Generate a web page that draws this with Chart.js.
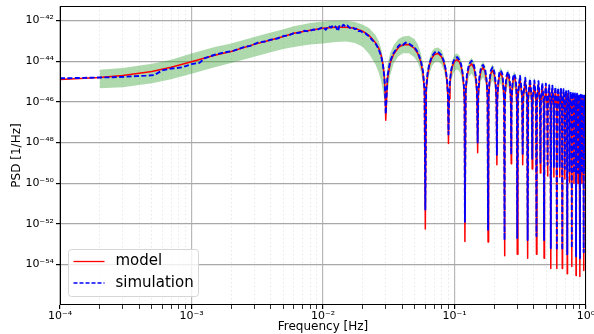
<!DOCTYPE html>
<html>
<head>
<meta charset="utf-8">
<script src="https://cdn.jsdelivr.net/npm/chart.js@4.4.1/dist/chart.umd.min.js"></script>
<style>
  html, body { margin: 0; padding: 0; background: #fff; }
  #wrap { width: 594px; height: 334px; position: relative; }
</style>
</head>
<body>
<div id="wrap"><canvas id="psd"></canvas></div>
<script>
// tick decades (powers of ten that get a label)
const xDecades = [-4, -3, -2, -1, 0];
const yDecades = [-54, -52, -50, -48, -46, -44, -42];

// frequencies of the model curve [Hz]
const modelFreq = [
  1e-4, 2e-4, 3e-4, 5e-4, 7e-4, 1e-3, 1.5e-3, 2e-3, 3e-3, 4e-3, 5e-3, 6e-3, 8e-3, 0.01, 0.0125, 0.015, 0.0175, 0.02, 0.0225, 0.025, 0.0265, 0.0277, 0.0286, 0.0293, 0.0297, 0.03,
  0.0309, 0.0324, 0.0345, 0.0375, 0.0405, 0.045, 0.0495, 0.0525, 0.0555, 0.0576, 0.0591, 0.06,
  0.0609, 0.0624, 0.0645, 0.0675, 0.0705, 0.075, 0.0795, 0.0825, 0.0855, 0.0876, 0.0891, 0.09,
  0.0909, 0.0924, 0.0945, 0.0975, 0.1005, 0.105, 0.1095, 0.1125, 0.1155, 0.1176, 0.1191, 0.12,
  0.1218, 0.1245, 0.129, 0.135, 0.141, 0.1455, 0.1482, 0.15,
  0.1518, 0.1545, 0.159, 0.165, 0.171, 0.1755, 0.1782, 0.18,
  0.1818, 0.1845, 0.189, 0.195, 0.201, 0.2055, 0.2082, 0.21,
  0.2118, 0.2145, 0.219, 0.225, 0.231, 0.2355, 0.2382, 0.24,
  0.2418, 0.2445, 0.249, 0.255, 0.261, 0.2655, 0.2682, 0.27,
  0.2718, 0.2745, 0.279, 0.285, 0.291, 0.2955, 0.2982, 0.30,
  0.3036, 0.315, 0.3264, 0.33,
  0.3336, 0.345, 0.3564, 0.36,
  0.3636, 0.375, 0.3864, 0.39,
  0.3936, 0.405, 0.4164, 0.42,
  0.4236, 0.435, 0.4464, 0.45,
  0.4536, 0.465, 0.4764, 0.48,
  0.4836, 0.495, 0.5064, 0.51,
  0.5136, 0.525, 0.5364, 0.54,
  0.5436, 0.555, 0.5664, 0.57,
  0.5736, 0.585, 0.5964, 0.60,
  0.6036, 0.615, 0.6264, 0.63,
  0.6336, 0.645, 0.6564, 0.66,
  0.6636, 0.675, 0.6864, 0.69,
  0.6936, 0.705, 0.7164, 0.72,
  0.7236, 0.735, 0.7464, 0.75,
  0.7536, 0.765, 0.7764, 0.78,
  0.7836, 0.795, 0.8064, 0.81,
  0.8136, 0.825, 0.8364, 0.84,
  0.8436, 0.855, 0.8664, 0.87,
  0.8736, 0.885, 0.8964, 0.90,
  0.9036, 0.915, 0.9264, 0.93,
  0.9336, 0.945, 0.9564, 0.96,
  0.9636, 0.975, 0.9864, 0.99,
  0.9936, 1.0
];

// model PSD, log10 of 1/Hz
const modelLogPsd = [
  -44.90, -44.80, -44.70, -44.50, -44.30, -44.02, -43.70, -43.52, -43.17, -42.95, -42.78, -42.62, -42.47, -42.38, -42.33, -42.33, -42.38, -42.52, -42.74, -43.08, -43.35, -43.72, -44.15, -44.78, -45.55, -46.90,
  -44.90, -44.10, -43.64, -43.32, -43.19, -43.18, -43.36, -43.61, -44.05, -44.60, -45.46, -52.26,
  -45.49, -44.67, -44.18, -43.83, -43.67, -43.62, -43.77, -44.01, -44.43, -44.97, -45.82, -48.05,
  -45.84, -45.01, -44.51, -44.15, -43.98, -43.92, -44.05, -44.28, -44.69, -45.22, -46.07, -52.87,
  -45.49, -44.75, -44.27, -44.13, -44.35, -44.89, -45.66, -48.50,
  -45.69, -44.94, -44.46, -44.31, -44.52, -45.05, -45.83, -52.90,
  -45.84, -45.09, -44.60, -44.45, -44.66, -45.19, -45.96, -49.10,
  -45.98, -45.23, -44.74, -44.58, -44.78, -45.31, -46.08, -53.57,
  -46.09, -45.34, -44.85, -44.69, -44.89, -45.41, -46.18, -49.05,
  -46.19, -45.43, -44.94, -44.78, -44.98, -45.50, -46.27, -53.50,
  -45.71, -44.87, -45.77, -49.10,
  -45.79, -44.95, -45.85, -53.70,
  -45.86, -45.02, -45.92, -49.30,
  -45.93, -45.09, -45.99, -53.50,
  -45.99, -45.15, -46.05, -49.50,
  -46.05, -45.21, -46.11, -53.70,
  -46.10, -45.26, -46.16, -49.65,
  -46.15, -45.31, -46.21, -54.20,
  -46.20, -45.36, -46.26, -49.70,
  -46.25, -45.41, -46.31, -54.20,
  -46.29, -45.45, -46.35, -49.70,
  -46.33, -45.49, -46.39, -54.20,
  -46.37, -45.53, -46.43, -49.80,
  -46.41, -45.57, -46.47, -54.46,
  -46.45, -45.61, -46.51, -49.96,
  -46.48, -45.64, -46.54, -54.10,
  -46.51, -45.67, -46.57, -50.00,
  -46.55, -45.71, -46.61, -54.55,
  -46.58, -45.74, -46.64, -50.00,
  -46.61, -45.77, -46.67, -54.60,
  -46.64, -45.80, -46.70, -50.00,
  -46.66, -45.82, -46.72, -54.30,
  -46.69, -45.85, -46.75, -49.90,
  -46.72, -46.00
];

// simulated PSD: own frequencies below 0.09 Hz, then same grid as the model
const simFreq = [
  1e-4, 1.5e-4, 2e-4, 2.5e-4, 3e-4, 3.8e-4, 4.5e-4, 5.2e-4, 6e-4, 7e-4, 8.5e-4, 1e-3, 1.15e-3, 1.26e-3, 1.5e-3, 1.8e-3, 2.1e-3, 2.5e-3, 2.8e-3, 3.2e-3, 3.6e-3,
  4e-3, 4.5e-3, 5e-3, 5.5e-3, 6e-3, 6.6e-3, 7.2e-3, 7.8e-3, 8.4e-3, 9e-3, 9.5e-3, 0.01, 0.0105, 0.011, 0.0115, 0.012, 0.0125, 0.013, 0.0133, 0.0138,
  0.0143, 0.0148, 0.0153, 0.016, 0.0167, 0.0174, 0.018, 0.0186, 0.0192, 0.02, 0.021, 0.0218, 0.0226, 0.0236, 0.0246, 0.0255, 0.0265, 0.0277, 0.0286, 0.0293, 0.0297, 0.03,
  0.0309, 0.0324, 0.0345, 0.0375, 0.039, 0.0405, 0.0425, 0.045, 0.047, 0.0495, 0.0525, 0.0555, 0.0576, 0.0591, 0.06,
  0.0609, 0.0624, 0.0645, 0.0675, 0.0705, 0.0725, 0.075, 0.0775, 0.0795, 0.0825, 0.0855, 0.0876, 0.0891, 0.09
].concat(modelFreq.slice(modelFreq.indexOf(0.0909)));

const simLogPsd = [
  -44.84, -44.82, -44.80, -44.79, -44.77, -44.73, -44.71, -44.68, -44.45, -44.36, -44.30, -44.14, -44.08, -43.85, -43.68, -43.56, -43.48, -43.30, -43.24, -43.08, -43.03,
  -42.94, -42.88, -42.76, -42.73, -42.62, -42.60, -42.50, -42.53, -42.44, -42.46, -42.38, -42.33, -42.45, -42.26, -42.34, -42.22, -42.30, -42.52, -42.27, -42.33,
  -42.20, -42.30, -42.24, -42.36, -42.30, -42.42, -42.40, -42.52, -42.50, -42.58, -42.62, -42.72, -42.78, -42.95, -43.06, -43.20, -43.40, -43.75, -44.20, -44.80, -45.55, -46.60,
  -44.75, -44.00, -43.58, -43.25, -43.15, -43.20, -43.08, -43.12, -43.22, -43.30, -43.55, -43.98, -44.50, -45.30, -51.30,
  -45.35, -44.58, -44.10, -43.75, -43.58, -43.52, -43.55, -43.62, -43.70, -43.95, -44.35, -44.85, -45.60, -47.60,
  -45.65, -44.92, -44.40, -44.05, -43.85, -43.80, -43.96, -44.18, -44.60, -45.10, -45.85, -51.90,
  -45.35, -44.62, -44.15, -43.98, -44.22, -44.75, -45.45, -48.00,
  -45.55, -44.80, -44.30, -44.18, -44.40, -44.92, -45.65, -52.30,
  -45.70, -44.95, -44.45, -44.30, -44.52, -45.05, -45.78, -48.60,
  -45.82, -45.10, -44.58, -44.45, -44.62, -45.18, -45.90, -52.80,
  -45.92, -45.20, -44.70, -44.52, -44.75, -45.28, -46.00, -48.60,
  -46.02, -45.30, -44.78, -44.62, -44.82, -45.36, -46.08, -52.70,
  -45.60, -44.72, -45.66, -48.60,
  -45.68, -44.82, -45.74, -52.80,
  -45.75, -44.86, -45.80, -48.80,
  -45.82, -44.95, -45.88, -52.60,
  -45.88, -44.98, -45.94, -49.00,
  -45.94, -45.08, -46.00, -52.80,
  -45.99, -45.10, -46.05, -49.10,
  -46.04, -45.18, -46.10, -53.20,
  -46.09, -45.20, -46.15, -49.20,
  -46.14, -45.27, -46.20, -53.30,
  -46.18, -45.30, -46.24, -49.20,
  -46.22, -45.36, -46.28, -53.30,
  -46.26, -45.38, -46.32, -49.30,
  -46.30, -45.44, -46.36, -53.50,
  -46.34, -45.46, -46.40, -49.40,
  -46.37, -45.50, -46.43, -53.20,
  -46.40, -45.52, -46.46, -49.50,
  -46.44, -45.58, -46.50, -53.60,
  -46.47, -45.60, -46.53, -49.50,
  -46.50, -45.63, -46.56, -53.70,
  -46.53, -45.65, -46.59, -49.50,
  -46.55, -45.68, -46.61, -53.40,
  -46.58, -45.70, -46.64, -49.40,
  -46.60, -45.95
];

// spread band, starts at 2e-4 Hz on the model grid
const bandFreq = modelFreq.slice(1);
const bandUpper = [
  -44.42, -44.33, -44.12, -43.92, -43.62, -43.30, -43.12, -42.80, -42.58, -42.42, -42.28, -42.12, -42.04, -42.00, -42.01, -42.07, -42.19, -42.38, -42.70, -43.00, -43.38, -43.85, -44.40, -44.90, -45.20,
  -44.20, -43.60, -43.20, -42.90, -42.78, -42.75, -42.90, -43.15, -43.60, -44.10, -44.90, -45.80,
  -45.00, -44.30, -43.85, -43.50, -43.36, -43.32, -43.45, -43.70, -44.10, -44.60, -45.40, -45.90,
  -45.45, -44.68, -44.20, -43.85, -43.67, -43.62, -43.74, -43.97, -44.36, -44.87, -45.65, -46.30,
  -45.15, -44.43, -43.97, -43.83, -44.05, -44.57, -45.30, -46.60,
  -45.35, -44.62, -44.16, -44.01, -44.22, -44.73, -45.48, -46.80,
  -45.50, -44.77, -44.30, -44.15, -44.36, -44.87, -45.62, -46.90,
  -45.64, -44.90, -44.44, -44.28, -44.48, -45.00, -45.74, -47.00,
  -45.75, -45.02, -44.55, -44.39, -44.59, -45.10, -45.84, -47.10,
  -45.85, -45.11, -44.64, -44.48, -44.68, -45.19, -45.93, -47.20,
  -45.36, -44.52, -45.42, -47.30,
  -45.44, -44.60, -45.50, -47.30,
  -45.51, -44.67, -45.57, -47.30,
  -45.58, -44.74, -45.64, -47.30,
  -45.64, -44.80, -45.70, -47.30,
  -45.70, -44.86, -45.76, -47.30,
  -45.75, -44.91, -45.81, -47.30,
  -45.80, -44.96, -45.86, -47.30,
  -45.85, -45.01, -45.91, -47.30,
  -45.90, -45.06, -45.96, -47.30,
  -45.94, -45.10, -46.00, -47.30,
  -45.98, -45.14, -46.04, -47.30,
  -46.02, -45.18, -46.08, -47.30,
  -46.06, -45.22, -46.12, -47.30,
  -46.10, -45.26, -46.16, -47.30,
  -46.13, -45.29, -46.19, -47.30,
  -46.16, -45.32, -46.22, -47.30,
  -46.20, -45.36, -46.26, -47.30,
  -46.23, -45.39, -46.29, -47.30,
  -46.26, -45.42, -46.32, -47.30,
  -46.29, -45.45, -46.35, -47.30,
  -46.31, -45.47, -46.37, -47.30,
  -46.34, -45.50, -46.40, -47.30,
  -46.37, -45.60
];
const bandLower = [
  -45.33, -45.28, -45.08, -44.88, -44.62, -44.30, -44.08, -43.78, -43.56, -43.40, -43.30, -43.18, -43.12, -43.05, -43.03, -43.10, -43.28, -43.65, -44.15, -44.55, -45.00, -45.50, -45.90, -46.20, -46.40,
  -45.60, -44.70, -44.10, -43.75, -43.60, -43.60, -43.80, -44.05, -44.50, -45.10, -45.90, -46.50,
  -46.00, -45.10, -44.60, -44.25, -44.05, -44.00, -44.15, -44.40, -44.85, -45.40, -46.20, -46.60,
  -46.35, -45.50, -45.00, -44.63, -44.46, -44.40, -44.53, -44.76, -45.18, -45.72, -46.50, -47.00,
  -46.00, -45.25, -44.75, -44.60, -44.83, -45.38, -46.15, -47.20,
  -46.20, -45.44, -44.95, -44.80, -45.00, -45.55, -46.35, -47.40,
  -46.35, -45.60, -45.10, -44.95, -45.15, -45.70, -46.50, -47.50,
  -46.50, -45.73, -45.24, -45.08, -45.28, -45.82, -46.60, -47.60,
  -46.60, -45.84, -45.35, -45.19, -45.39, -45.92, -46.70, -47.70,
  -46.70, -45.93, -45.44, -45.28, -45.48, -46.00, -46.80, -47.80,
  -46.21, -45.37, -46.27, -47.90,
  -46.29, -45.45, -46.35, -47.90,
  -46.36, -45.52, -46.42, -47.90,
  -46.43, -45.59, -46.49, -47.90,
  -46.49, -45.65, -46.55, -47.90,
  -46.55, -45.71, -46.61, -47.90,
  -46.60, -45.76, -46.66, -47.90,
  -46.65, -45.81, -46.71, -47.90,
  -46.70, -45.86, -46.76, -47.90,
  -46.75, -45.91, -46.81, -47.90,
  -46.79, -45.95, -46.85, -47.90,
  -46.83, -45.99, -46.89, -47.90,
  -46.87, -46.03, -46.93, -47.90,
  -46.91, -46.07, -46.97, -47.90,
  -46.95, -46.11, -47.01, -47.90,
  -46.98, -46.14, -47.04, -47.90,
  -47.01, -46.17, -47.07, -47.90,
  -47.05, -46.21, -47.11, -47.90,
  -47.08, -46.24, -47.14, -47.90,
  -47.11, -46.27, -47.17, -47.90,
  -47.14, -46.30, -47.20, -47.90,
  -47.16, -46.32, -47.22, -47.90,
  -47.19, -46.35, -47.25, -47.90,
  -47.20, -46.40
];

const seriesNames = ['model', 'simulation'];

function toPoints(freqs, logs) {
  const n = Math.min(freqs.length, logs.length);
  const pts = [];
  for (let i = 0; i < n; i++) pts.push({x: freqs[i], y: Math.pow(10, logs[i])});
  return pts;
}

const SUP = {'-': '\u207B', '0': '\u2070', '1': '\u00B9', '2': '\u00B2', '3': '\u00B3', '4': '\u2074',
             '5': '\u2075', '6': '\u2076', '7': '\u2077', '8': '\u2078', '9': '\u2079'};
function powLabel(e) {
  return '10' + String(e).split('').map(c => SUP[c]).join('');
}
function decadeOf(v) {
  const l = Math.log10(v);
  const r = Math.round(l);
  return Math.abs(l - r) < 1e-6 ? r : null;
}

const FONT = "'DejaVu Sans', sans-serif";

const framePlugin = {
  id: 'frame',
  afterDatasetsDraw(chart) {
    const a = chart.chartArea, ctx = chart.ctx;
    ctx.save();
    ctx.strokeStyle = '#000';
    ctx.lineWidth = 1;
    ctx.strokeRect(Math.round(a.left) + 0.5, Math.round(a.top) + 0.5,
                   Math.round(a.right - a.left) - 1, Math.round(a.bottom - a.top) - 1);
    ctx.restore();
  }
};

const legendPlugin = {
  id: 'psdLegend',
  afterDraw(chart) {
    const a = chart.chartArea, ctx = chart.ctx;
    const x = a.left + 8.5, y = a.bottom - 55.5, w = 130, h = 47, r = 3;
    ctx.save();
    ctx.beginPath();
    ctx.moveTo(x + r, y);
    ctx.arcTo(x + w, y, x + w, y + h, r);
    ctx.arcTo(x + w, y + h, x, y + h, r);
    ctx.arcTo(x, y + h, x, y, r);
    ctx.arcTo(x, y, x + w, y, r);
    ctx.closePath();
    ctx.fillStyle = 'rgba(255,255,255,0.8)';
    ctx.fill();
    ctx.strokeStyle = '#d6d6d6';
    ctx.lineWidth = 1;
    ctx.stroke();

    const rows = [
      {label: seriesNames[0], color: '#ff0000', dash: [], yy: y + 12},
      {label: seriesNames[1], color: '#0000ff', dash: [4, 2], yy: y + 33.5}
    ];
    rows.forEach(row => {
      ctx.beginPath();
      ctx.setLineDash(row.dash);
      ctx.strokeStyle = row.color;
      ctx.lineWidth = 1.3;
      ctx.moveTo(x + 5, row.yy);
      ctx.lineTo(x + 36, row.yy);
      ctx.stroke();
      ctx.setLineDash([]);
      ctx.fillStyle = '#000';
      ctx.font = '15px ' + FONT;
      ctx.textBaseline = 'middle';
      ctx.textAlign = 'left';
      ctx.fillText(row.label, x + 47, row.yy);
    });
    ctx.restore();
  }
};

const ctx = document.getElementById('psd').getContext('2d');
new Chart(ctx, {
  type: 'line',
  data: {
    datasets: [
      {
        label: 'band upper',
        data: toPoints(bandFreq, bandUpper),
        borderWidth: 0,
        pointRadius: 0,
        backgroundColor: 'rgba(60,165,60,0.42)',
        fill: '+1',
        order: 2
      },
      {
        label: 'band lower',
        data: toPoints(bandFreq, bandLower),
        borderWidth: 0,
        pointRadius: 0,
        fill: false,
        order: 3
      },
      {
        label: seriesNames[0],
        data: toPoints(modelFreq, modelLogPsd),
        borderColor: '#ff0000',
        borderWidth: 1.5,
        pointRadius: 0,
        fill: false,
        borderJoinStyle: 'round',
        order: 1
      },
      {
        label: seriesNames[1],
        data: toPoints(simFreq, simLogPsd),
        borderColor: '#0000ff',
        borderWidth: 1.9,
        borderDash: [5, 2.4],
        pointRadius: 0,
        fill: false,
        borderJoinStyle: 'round',
        order: 0
      }
    ]
  },
  options: {
    responsive: true,
    maintainAspectRatio: false,
    animation: false,
    devicePixelRatio: 1,
    layout: { padding: { top: 6, right: 8, left: 0, bottom: 0 } },
    plugins: {
      legend: { display: false },
      tooltip: { enabled: false }
    },
    scales: {
      x: {
        type: 'logarithmic',
        min: 1e-4,
        max: 1,
        afterBuildTicks: scale => {
          const t = [];
          for (let d = xDecades[0]; d < xDecades[xDecades.length - 1]; d++) {
            for (let k = 1; k <= 9; k++) t.push({value: k * Math.pow(10, d)});
          }
          t.push({value: Math.pow(10, xDecades[xDecades.length - 1])});
          scale.ticks = t;
        },
        afterFit: scale => { scale.height = 29; scale.paddingLeft = 0; scale.paddingRight = 0; },
        ticks: {
          autoSkip: false,
          maxRotation: 0,
          padding: 1,
          color: '#000',
          font: { family: FONT, size: 11 },
          callback: v => { const d = decadeOf(v); return d === null ? '' : powLabel(d); }
        },
        grid: {
          color: c => (c.tick && decadeOf(c.tick.value) !== null) ? '#b8b8b8' : '#e2e2e2',
          lineWidth: c => (c.tick && decadeOf(c.tick.value) !== null) ? 1.2 : 0.8,
          tickColor: '#000',
          tickLength: 4,
          drawTicks: true
        },
        border: {
          display: false,
          dash: c => (c.tick && decadeOf(c.tick.value) === null) ? [1.5, 2.5] : []
        },
        title: {
          display: true,
          text: 'Frequency [Hz]',
          color: '#000',
          font: { family: FONT, size: 12 },
          padding: { top: 0, bottom: 0 }
        }
      },
      y: {
        type: 'logarithmic',
        min: Math.pow(10, -55.97),
        max: Math.pow(10, -41.28),
        afterBuildTicks: scale => {
          scale.ticks = yDecades.map(d => ({value: Math.pow(10, d)}));
        },
        afterFit: scale => { scale.width = 60; scale.paddingTop = 0; scale.paddingBottom = 0; },
        ticks: {
          autoSkip: false,
          padding: 2,
          color: '#000',
          font: { family: FONT, size: 11 },
          callback: v => { const d = decadeOf(v); return d === null ? '' : powLabel(d); }
        },
        grid: {
          color: '#a8a8a8',
          lineWidth: 1.2,
          tickColor: '#000',
          tickLength: 4
        },
        border: { display: false },
        title: {
          display: true,
          text: 'PSD [1/Hz]',
          color: '#000',
          font: { family: FONT, size: 12 },
          padding: { top: 10, bottom: 0 }
        }
      }
    }
  },
  plugins: [framePlugin, legendPlugin]
});
</script>
</body>
</html>
